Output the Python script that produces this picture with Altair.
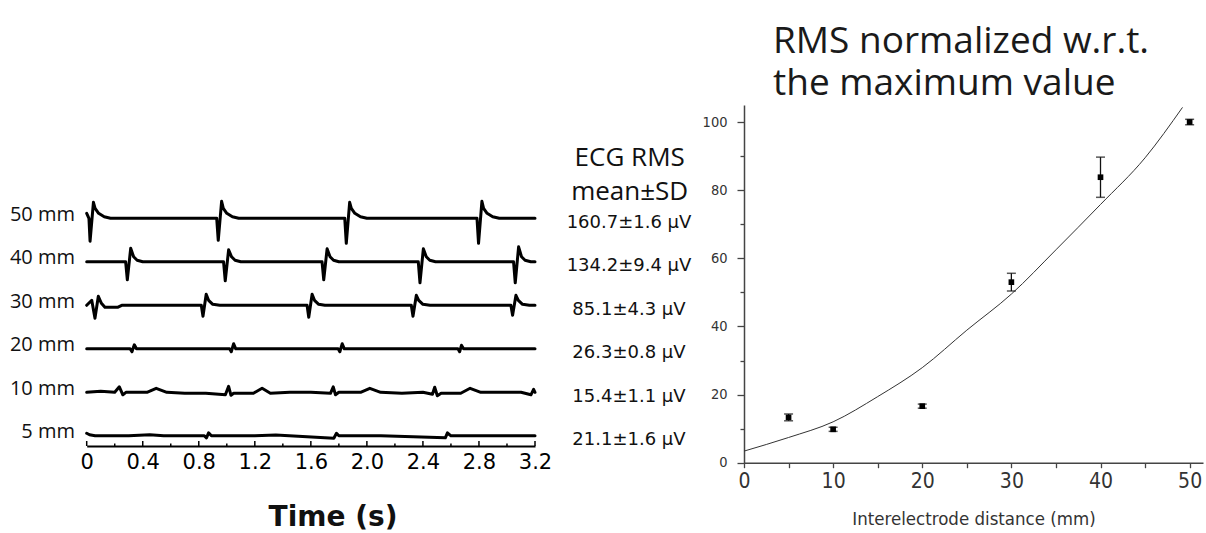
import altair as alt
import pandas as pd

# ---------------- left panel: ECG traces ----------------
ROW_LABELS = ["50 mm", "40 mm", "30 mm", "20 mm", "10 mm", "5 mm"]
RMS_TEXT = ["160.7±1.6 μV", "134.2±9.4 μV", "85.1±4.3 μV",
            "26.3±0.8 μV", "15.4±1.1 μV", "21.1±1.6 μV"]

# time (s) and deflection (arbitrary units, up positive)
T50 = [0, 0.016, 0.024, 0.048, 0.06, 0.085, 0.125, 0.17,
       0.928, 0.939, 0.963, 0.975, 1.0, 1.04, 1.085,
       1.842, 1.853, 1.877, 1.889, 1.914, 1.954, 2.0,
       2.786, 2.797, 2.821, 2.833, 2.858, 2.898, 2.945, 3.2]
A50 = [5, 0, -23, 16, 10, 5, 1.5, 0,
       0, -22, 17, 10, 5, 1.5, 0,
       0, -25, 16, 10, 5, 1.5, 0,
       0, -25, 17, 10, 5, 1.5, 0, 0]

T40 = [0, 0.278, 0.290, 0.314, 0.335, 0.36, 0.40,
       0.977, 0.989, 1.013, 1.034, 1.059, 1.10,
       1.680, 1.692, 1.716, 1.737, 1.762, 1.80,
       2.367, 2.379, 2.403, 2.424, 2.449, 2.49,
       3.047, 3.059, 3.083, 3.104, 3.129, 3.17, 3.2]
A40 = [0, 0, -18, 13.5, 5, 1.5, 0,
       0, -19, 12, 5, 1.5, 0,
       0, -18, 13, 5, 1.5, 0,
       0, -21, 13, 5, 1.5, 0,
       0, -21, 15, 5, 1.5, 0, 0]

T30 = [0, 0.036, 0.059, 0.083, 0.105, 0.13, 0.22, 0.25,
       0.818, 0.830, 0.853, 0.870, 0.90, 0.95,
       1.573, 1.585, 1.609, 1.626, 1.656, 1.70,
       2.317, 2.329, 2.353, 2.370, 2.40, 2.45,
       3.028, 3.040, 3.064, 3.081, 3.111, 3.16, 3.2]
A30 = [0, 5, -13, 9, 2, -2, -2, 0,
       0, -11, 11, 5, 1, 0,
       0, -12, 11, 5, 1, 0,
       0, -11, 10, 5, 1, 0,
       0, -10, 10, 5, 1, 0, 0]

T20 = [0, 0.31, 0.323, 0.340, 0.355, 1.02, 1.032, 1.049, 1.064,
       1.795, 1.807, 1.824, 1.839, 2.65, 2.662, 2.675, 2.69, 3.2]
A20 = [0, 0, -3, 4, 0, 0, -3, 5, 0,
       0, -3, 5, 0, 0, -3, 3.5, 0, 0]

T10 = [0, 0.10, 0.20, 0.233, 0.258, 0.28, 0.43, 0.496, 0.572, 0.70, 0.85,
       0.99, 1.013, 1.03, 1.049, 1.19, 1.252, 1.311, 1.45, 1.60, 1.74, 1.76,
       1.776, 1.80, 1.955, 2.021, 2.098, 2.25, 2.40, 2.468, 2.484, 2.503, 2.53,
       2.67, 2.737, 2.813, 2.95, 3.10, 3.171, 3.19, 3.2]
A10 = [0, 1, 0, 5.5, -2.5, 0, 0, 4, 0, -1, -1,
       -2.5, 6, -3, -1, -1, 4, -1, 0, 0, -1, 5.5,
       -2.5, 0, 0, 4, 0, -1, 0, -2, 5, -3.5, -1,
       -1, 4, 0, 0, 0, -2.5, 3, 0]

T05 = [0, 0.02, 0.06, 0.3, 0.45, 0.55, 0.84, 0.855, 0.87, 0.89, 1.2, 1.35,
       1.764, 1.783, 1.80, 2.1, 2.56, 2.575, 2.60, 2.9, 3.2]
A05 = [2.5, 1, 0, 0, 1, 0, 0, -2, 3, 0, 0, 0.8,
       -2.5, 2.5, 0, 0, -2, 3, 0, 0, 0]

TIME_TICKS = [0, 0.4, 0.8, 1.2, 1.6, 2.0, 2.4, 2.8, 3.2]
TIME_MINOR = [0.2, 0.6, 1.0, 1.4, 1.8, 2.2, 2.6, 3.0]

# ---------------- right panel ----------------
DIST = [5, 10, 20, 30, 40, 50]
RMS_NORM = [13.3, 9.8, 16.6, 53.0, 83.8, 100.0]
RMS_SD = [1.0, 0.6, 0.6, 2.6, 5.9, 0.8]
FIT_X = [0, 5, 10, 15, 20, 25, 30, 35, 40, 45, 49.2]
FIT_Y = [3.4, 7.4, 12.0, 19.4, 27.9, 38.9, 49.5, 62.5, 75.8, 89.5, 104.3]
DIST_TICKS = [0, 5, 10, 15, 20, 25, 30, 35, 40, 45, 50]
NORM_TICKS = [0, 10, 20, 30, 40, 50, 60, 70, 80, 90, 100]

# ---------------- layout (plot area = right panel) ----------------
PAD_L, PAD_T, W, H = 744, 105, 459, 357.7
ROW_GAP = 43.5

traces = [(T50, A50), (T40, A40), (T30, A30), (T20, A20), (T10, A10), (T05, A05)]
rows = []
for i, (ts, amps) in enumerate(traces):
    for t, a in zip(ts, amps):
        rows.append({"row": ROW_LABELS[i], "t": t, "y": -i * ROW_GAP + a})
trace_df = pd.DataFrame(rows)

label_df = pd.DataFrame({"label": ROW_LABELS, "rms": RMS_TEXT,
                         "level": [-i * ROW_GAP for i in range(len(ROW_LABELS))]})
major_df = pd.DataFrame({"t": TIME_TICKS})
minor_df = pd.DataFrame({"t": TIME_MINOR})


def x_l():
    return alt.Scale(domain=[0, 3.2], range=[86.7 - PAD_L, 535 - PAD_L], nice=False, zero=False)


def y_l():
    return alt.Scale(domain=[-5 * ROW_GAP, 0],
                     range=[218.3 + 5 * ROW_GAP - PAD_T, 218.3 - PAD_T], nice=False, zero=False)


AXIS_Y = 446 - PAD_T
time_axis = alt.Axis(orient="bottom", offset=AXIS_Y - H, values=TIME_TICKS,
                     labelExpr="datum.value === 0 ? '0' : format(datum.value, '.1f')",
                     domainColor="black", domainWidth=2, ticks=False, tickSize=0,
                     labelFont="DejaVu Sans", labelFontSize=21, labelColor="black",
                     labelPadding=5, labelFlush=False, labelOverlap=False,
                     grid=False, title=None)

trace_lines = alt.Chart(trace_df).mark_line(
    color="black", strokeWidth=3, strokeJoin="round", strokeCap="round"
).encode(
    x=alt.X("t:Q", scale=x_l(), axis=time_axis),
    y=alt.Y("y:Q", scale=y_l(), axis=None),
    detail="row:N",
)

major_ticks = alt.Chart(major_df).mark_rule(color="black", strokeWidth=1.5).encode(
    x=alt.X("t:Q", scale=x_l(), axis=None),
    y=alt.value(AXIS_Y),
    y2=alt.value(AXIS_Y - 5),
)
minor_ticks = alt.Chart(minor_df).mark_rule(color="black", strokeWidth=1.5).encode(
    x=alt.X("t:Q", scale=x_l(), axis=None),
    y=alt.value(AXIS_Y),
    y2=alt.value(AXIS_Y - 2.5),
)

row_text = alt.Chart(label_df).mark_text(
    align="right", baseline="middle", dy=-3.5, font="Open Sans", fontSize=20, color="#111"
).encode(
    x=alt.value(75 - PAD_L),
    y=alt.Y("level:Q", scale=y_l(), axis=None),
    text="label:N",
)

rms_text = alt.Chart(label_df).mark_text(
    align="center", baseline="middle", dy=4.5, font="DejaVu Sans", fontSize=18, color="#111"
).encode(
    x=alt.value(629 - PAD_L),
    y=alt.Y("level:Q", scale=y_l(), axis=None),
    text="rms:N",
)

one = pd.DataFrame({"k": [0]})


def note(text, x, y, **kw):
    return alt.Chart(one).mark_text(text=text, **kw).encode(x=alt.value(x), y=alt.value(y))


hdr1 = note("ECG RMS", 629.7 - PAD_L, 158.3 - PAD_T, align="center", baseline="middle",
            font="Open Sans", fontSize=26, color="#111")
hdr2 = note("mean±SD", 629.7 - PAD_L, 191.7 - PAD_T, align="center", baseline="middle",
            font="Open Sans", fontSize=26, color="#111")
time_title = note("Time (s)", 333 - PAD_L, 518 - PAD_T, align="center", baseline="middle",
                  font="DejaVu Sans", fontSize=28, fontWeight="bold", color="#111")
title = note(["RMS normalized w.r.t.", "the maximum value"], 773 - PAD_L, 53 - PAD_T,
             align="left", baseline="alphabetic", lineHeight=42,
             font="Open Sans", fontSize=37, color="#1a1a1a")

# ---------------- right panel ----------------
pt_df = pd.DataFrame({"dist": DIST, "rms": RMS_NORM, "sd": RMS_SD})
pt_df["lo"] = pt_df["rms"] - pt_df["sd"]
pt_df["hi"] = pt_df["rms"] + pt_df["sd"]
fit_df = pd.DataFrame({"dist": FIT_X, "fit": FIT_Y})


def x_r():
    return alt.Scale(domain=[0, 51.5], nice=False, zero=False)


def y_r():
    return alt.Scale(domain=[0, 105], nice=False, zero=False)


narrow = "DejaVu Sans Condensed, DejaVu Sans, sans-serif"
x_axis_r = alt.Axis(orient="bottom", values=DIST_TICKS,
                    labelExpr="datum.value % 10 === 0 ? datum.label : ''",
                    tickSize=5, tickColor="#444", tickWidth=1.3,
                    domainColor="#444", domainWidth=1.5,
                    labelFont=narrow, labelFontSize=21, labelColor="#333",
                    labelPadding=3, labelFlush=False, labelOverlap=False, grid=False,
                    title="Interelectrode distance (mm)", titleFont=narrow,
                    titleFontSize=18.5, titleFontWeight="normal", titleColor="#333",
                    titlePadding=18)
y_axis_r = alt.Axis(orient="left", values=NORM_TICKS,
                    labelExpr="datum.value % 20 === 0 ? datum.label : ''",
                    tickSize={"condition": {"test": "datum.value % 20 === 0", "value": 7},
                              "value": 4},
                    tickColor="#444", tickWidth=1.3,
                    domainColor="#444", domainWidth=1.5,
                    labelFont=narrow,
                    labelFontSize=14.5, labelColor="#333", labelPadding=10,
                    labelFlush=False, labelOverlap=False, grid=False, title=None)

fit_line = alt.Chart(fit_df).mark_line(color="#333", strokeWidth=1, interpolate="monotone").encode(
    x=alt.X("dist:Q", scale=x_r(), axis=x_axis_r),
    y=alt.Y("fit:Q", scale=y_r(), axis=y_axis_r),
)
err_rule = alt.Chart(pt_df).mark_rule(color="#111", strokeWidth=1.3).encode(
    x=alt.X("dist:Q", scale=x_r(), axis=None),
    y=alt.Y("lo:Q", scale=y_r(), axis=None),
    y2="hi:Q",
)
cap_lo = alt.Chart(pt_df).mark_tick(orient="horizontal", color="#111", size=9, thickness=1.5).encode(
    x=alt.X("dist:Q", scale=x_r(), axis=None),
    y=alt.Y("lo:Q", scale=y_r(), axis=None),
)
cap_hi = alt.Chart(pt_df).mark_tick(orient="horizontal", color="#111", size=9, thickness=1.5).encode(
    x=alt.X("dist:Q", scale=x_r(), axis=None),
    y=alt.Y("hi:Q", scale=y_r(), axis=None),
)
points = alt.Chart(pt_df).mark_square(color="black", size=32, opacity=1).encode(
    x=alt.X("dist:Q", scale=x_r(), axis=None),
    y=alt.Y("rms:Q", scale=y_r(), axis=None),
)

chart = alt.layer(
    fit_line, err_rule, cap_lo, cap_hi, points,
    trace_lines, major_ticks, minor_ticks, row_text, rms_text,
    hdr1, hdr2, time_title, title
).resolve_scale(
    x="independent", y="independent"
).properties(
    width=W, height=H,
    padding={"left": PAD_L, "top": PAD_T, "right": 1206 - PAD_L - W, "bottom": 533 - PAD_T - H},
    autosize=alt.AutoSizeParams(type="none"),
    background="white",
).configure_view(stroke=None)

chart.save("out.html", embed_options={"renderer": "svg", "actions": False})
